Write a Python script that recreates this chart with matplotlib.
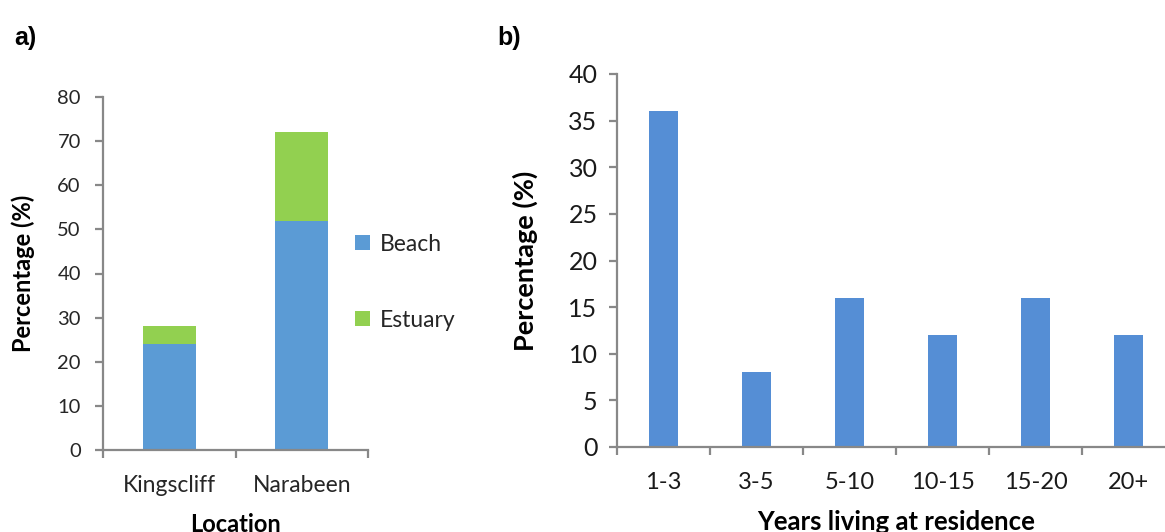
import matplotlib
matplotlib.use("Agg")
import matplotlib.pyplot as plt
import numpy as np

# panel a data
locations = ["Kingscliff", "Narabeen"]
beach = [24, 52]
estuary = [4, 20]

# panel b data
years = ["1-3", "3-5", "5-10", "10-15", "15-20", "20+"]
pct = [36, 8, 16, 12, 16, 12]

font = ["Lato", "DejaVu Sans"]
plt.rcParams["font.family"] = font
axis_col = "#888888"
text_col = "#262626"

fig = plt.figure(figsize=(11.65, 5.32), dpi=100)


def style(ax):
    for s in ["top", "right"]:
        ax.spines[s].set_visible(False)
    for s in ["left", "bottom"]:
        ax.spines[s].set_color(axis_col)
        ax.spines[s].set_linewidth(1.6)
    ax.tick_params(which="major", color=axis_col, width=1.6, length=6)
    ax.tick_params(which="minor", length=0)


# ---- a) ----
ax1 = fig.add_axes([103 / 1165, 1 - 450 / 532, 265 / 1165, 353 / 532])
x = np.arange(len(locations))
ax1.bar(x, beach, width=0.4, color="#5B9BD5", label="Beach")
ax1.bar(x, estuary, width=0.4, bottom=beach, color="#92D050", label="Estuary")
ax1.set_xlim(-0.5, len(locations) - 0.5)
ax1.set_ylim(0, 80)
ax1.set_yticks(range(0, 81, 10))
ax1.set_xticks(np.arange(-0.5, len(locations)))
ax1.set_xticklabels([])
ax1.set_xticks(x, minor=True)
ax1.set_xticklabels(locations, minor=True)
style(ax1)
ax1.tick_params(axis="y", labelsize=14.5, labelcolor=text_col, pad=10)
ax1.tick_params(axis="x", which="minor", labelsize=16.5, labelcolor=text_col, pad=18)
ax1.set_ylabel("Percentage (%)", fontsize=17, fontweight="bold", labelpad=16)
ax1.set_xlabel("Location", fontsize=17, fontweight="bold", labelpad=12)
ax1.legend(loc="center left", bbox_to_anchor=(0.875, 0.475), frameon=False,
           fontsize=16.5, handlelength=0.65, handleheight=0.65, handletextpad=0.4,
           labelspacing=2.4, labelcolor=text_col)

# ---- b) ----
ax2 = fig.add_axes([617 / 1165, 1 - 447 / 532, 558 / 1165, 373 / 532])
xb = np.arange(len(years))
ax2.bar(xb, pct, width=0.31, color="#558ED5")
ax2.set_xlim(-0.5, len(years) - 0.5)
ax2.set_ylim(0, 40)
ax2.set_yticks(range(0, 41, 5))
ax2.set_xticks(np.arange(-0.5, len(years)))
ax2.set_xticklabels([])
ax2.set_xticks(xb, minor=True)
ax2.set_xticklabels(years, minor=True)
style(ax2)
ax2.tick_params(axis="y", labelsize=18, labelcolor="#1a1a1a", pad=8)
ax2.tick_params(axis="x", which="minor", labelsize=17, labelcolor="#1a1a1a", pad=18)
ax2.set_ylabel("Percentage (%)", fontsize=19.5, fontweight="bold", labelpad=22)
ax2.set_xlabel("Years living at residence", fontsize=18.5, fontweight="bold", labelpad=12)

fig.text(14 / 1165, 1 - 45 / 532, "a)", fontsize=18, fontweight="bold",
         family="Liberation Sans")
fig.text(497 / 1165, 1 - 45 / 532, "b)", fontsize=18, fontweight="bold",
         family="Liberation Sans")

fig.savefig("out.png", dpi=100)
